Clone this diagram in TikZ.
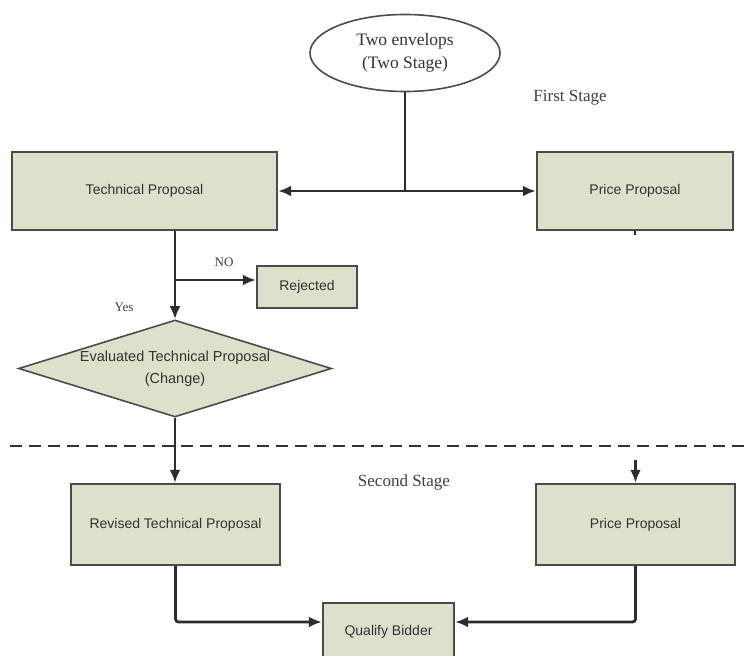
\documentclass[tikz,border=0pt]{standalone}
\usepackage{fontspec}
\setmainfont{Liberation Serif}
\setsansfont{Liberation Sans}
\usetikzlibrary{shapes.geometric,arrows.meta,calc}
\definecolor{boxfill}{RGB}{222,224,204}
\definecolor{boxline}{RGB}{75,75,75}
\definecolor{boxtext}{RGB}{50,50,50}
\definecolor{conn}{RGB}{45,45,45}
\tikzset{
  procbox/.style={draw=boxline, fill=boxfill, line width=2.4pt, inner sep=0pt,
    font=\sffamily\fontsize{14}{16}\selectfont, text=boxtext, align=center},
  startell/.style={ellipse, draw=boxline, fill=white, line width=1.6pt, inner sep=0pt,
    minimum width=190pt, minimum height=77pt, align=center,
    font=\rmfamily\fontsize{17.5}{23}\selectfont, text=black!80},
  decide/.style={diamond, draw=boxline, fill=boxfill, line width=1.6pt, inner sep=0pt,
    aspect=3.2, minimum width=313pt, minimum height=97pt, align=center,
    font=\sffamily\fontsize{14.5}{22}\selectfont, text=boxtext},
  conline/.style={draw=conn, line width=2.8pt},
  arr/.style={conline, -{Latex[length=13pt,width=11pt]}},
  stagelabel/.style={fill=white, inner sep=3pt, font=\rmfamily\fontsize{17}{20}\selectfont, text=black!75},
  small/.style={inner sep=1pt, font=\rmfamily\fontsize{13}{14}\selectfont, text=black!75}
}
\begin{document}
\begin{tikzpicture}[x=1pt, y=-1pt]
\useasboundingbox (0,0) rectangle (751,655);
\clip (0,0) rectangle (751,655);
\fill[white] (0,0) rectangle (751,655);

% nodes
\node[startell] (env) at (405,53) {Two envelops\\(Two Stage)};
\node[procbox, minimum width=265pt, minimum height=78pt] (tech) at (144.5,191) {Technical Proposal};
\node[procbox, minimum width=196pt, minimum height=78pt] (price1) at (635,191) {Price Proposal};
\node[procbox, minimum width=100pt, minimum height=42pt] (rej) at (307,287) {Rejected};
\node[decide] (diam) at (175,368.5) {Evaluated Technical Proposal\\(Change)};
\node[procbox, minimum width=209pt, minimum height=81pt] (rev) at (175.5,524.5) {Revised Technical Proposal};
\node[procbox, minimum width=199pt, minimum height=81pt] (price2) at (635.5,524.5) {Price Proposal};
\node[procbox, minimum width=131pt, minimum height=58pt] (qual) at (388.5,632) {Qualify Bidder};

% labels
\node[stagelabel] (first) at (570,98) {First Stage};
\node[stagelabel] (second) at (404,482) {Second Stage};
\node[small] (no) at (224,262) {NO};
\node[small] (yes) at (124,307) {Yes};

% coordinates
\coordinate (j1) at (405,191);
\coordinate (j2) at (175,280);
\coordinate (dl) at (10,446);
\coordinate (dr) at (751,446);
\coordinate (p2in) at (635.5,460);

% connectors
\draw[conline] (env.south) -- (j1);
\draw[arr] (j1) -- (tech.east);
\draw[arr] (j1) -- (price1.west);
\draw[arr] (tech.south -| diam.north) -- (diam.north);
\draw[arr] (j2) -- (j2 -| rej.west);
\draw[arr] (diam.south) -- (diam.south |- rev.north);
\draw[arr] (p2in) -- (price2.north);
\draw[conline, line width=2pt] (price1.south) -- ++(0,4);
\draw[arr, rounded corners=3pt] (rev.south) |- ([yshift=10pt]qual.west);
\draw[arr, rounded corners=3pt] (price2.south) |- ([yshift=10pt]qual.east);

% stage divider
\draw[draw=black!80, line width=2.4pt, dash pattern=on 12pt off 7pt] (dl) -- (dr);
\end{tikzpicture}
\end{document}
